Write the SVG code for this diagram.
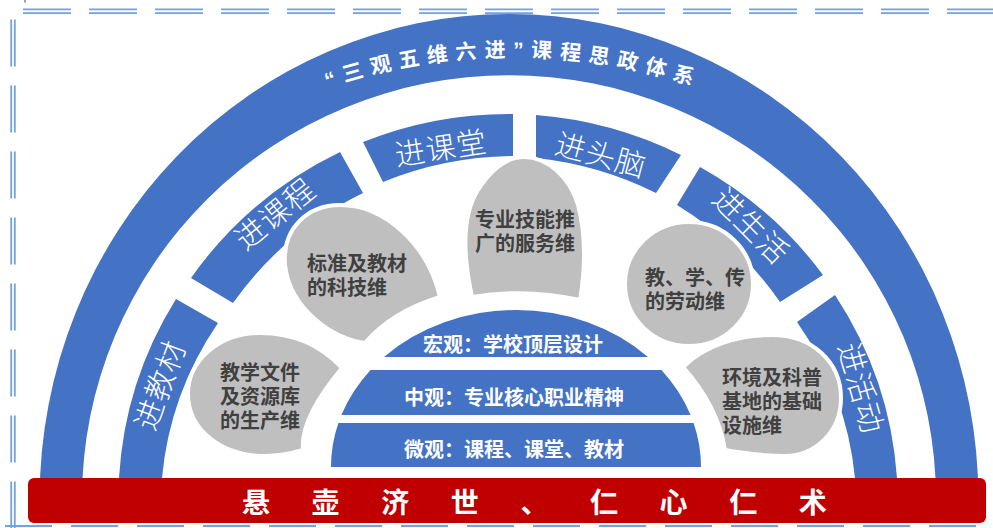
<svg xmlns="http://www.w3.org/2000/svg" xmlns:xlink="http://www.w3.org/1999/xlink" width="993" height="528" viewBox="0 0 993 528">
  <defs>
    <style>
      .blue { fill: #4472C4; }
      .blob { fill: #BFBFBF; stroke: #FFFFFF; stroke-width: 4; }
      .dash { stroke: #73A1E2; stroke-width: 1.8; fill: none; }
      .seg-label { font-family: "Noto Sans CJK SC", "Noto Sans", sans-serif; font-size: 30px; font-weight: 300; fill: #FFFFFF; text-anchor: middle; letter-spacing: 1px; }
      .blob-text { font-family: "Noto Sans CJK SC", "Noto Sans", sans-serif; font-size: 20px; font-weight: 700; fill: #404040; }
      .dome-text { font-family: "Noto Sans CJK SC", "Noto Sans", sans-serif; font-size: 20px; font-weight: 700; fill: #FFFFFF; text-anchor: middle; }
      .title { font-family: "Liberation Sans", "Noto Sans CJK SC", sans-serif; font-size: 21px; font-weight: 700; fill: #FFFFFF; letter-spacing: 7.5px; }
      .bar-text { font-family: "Noto Sans CJK SC", "Noto Sans", sans-serif; font-size: 28px; font-weight: 700; fill: #FFFFFF; letter-spacing: 41.6px; }
    </style>
    <path id="titlePath" d="M -7,530 A 520 473 0 0 1 1033,530" fill="none"/>
  </defs>

  <rect x="0" y="0" width="993" height="528" fill="#FFFFFF"/>

  <!-- dashed frame -->
  <g id="frame">
    <line x1="25" y1="0" x2="25" y2="2.5" stroke="#808080" stroke-width="1.5"/>
    <line class="dash" x1="23" y1="9.3" x2="993" y2="9.3" stroke-dasharray="48 18"/>
    <line class="dash" x1="23" y1="13.2" x2="993" y2="13.2" stroke-dasharray="48 18"/>
    <line class="dash" x1="11.2" y1="19.5" x2="11.2" y2="528" stroke-dasharray="47 19"/>
    <line class="dash" x1="14.8" y1="19.5" x2="14.8" y2="528" stroke-dasharray="47 19"/>
    <line class="dash" x1="5" y1="526" x2="993" y2="526" stroke-dasharray="47 19"/>
    <line class="dash" x1="5" y1="529.6" x2="993" y2="529.6" stroke-dasharray="47 19"/>
  </g>

  <!-- outer arch with title -->
  <g id="arch">
    <path class="blue" d="M 39.6,499 A 469.4 485 0 0 1 978.4,499 L 936,499 A 427 424 0 0 0 82,499 Z"/>
    <text class="title"><textPath xlink:href="#titlePath" href="#titlePath" startOffset="50%" text-anchor="middle">“三观五维六进”课程思政体系</textPath></text>
  </g>

  <!-- six segments -->
  <g id="seg-jiaocai">
    <path class="blue" d="M 118.5,490 L 119,478 A 390 384 0 0 1 176,299 L 218,323 A 347 335 0 0 0 162,478 L 162,490 Z"/>
    <text class="seg-label" transform="translate(160,385) rotate(-70)" y="11">进教材</text>
  </g>
  <g id="seg-kecheng">
    <path class="blue" d="M 191,278 A 390 384 0 0 1 340,152 L 363,193 A 347 335 0 0 0 233,303 Z"/>
    <text class="seg-label" transform="translate(275,214) rotate(-39)" y="11">进课程</text>
  </g>
  <g id="seg-ketang">
    <path class="blue" d="M 363,142 A 390 384 0 0 1 513,114 L 513,156 A 347 340 0 0 0 383,182 Z"/>
    <text class="seg-label" transform="translate(441,148) rotate(-9)" y="11">进课堂</text>
  </g>
  <g id="seg-tounao">
    <path class="blue" d="M 536,115 A 390 384 0 0 1 681,155 L 656,193 A 347 340 0 0 0 536,158 Z"/>
    <text class="seg-label" transform="translate(601,155) rotate(15)" y="11">进头脑</text>
  </g>
  <g id="seg-shenghuo">
    <path class="blue" d="M 700,167 A 390 384 0 0 1 823,275 L 780,302 A 347 335 0 0 0 677,205 Z"/>
    <text class="seg-label" transform="translate(751,226) rotate(45)" y="11">进生活</text>
  </g>
  <g id="seg-huodong">
    <path class="blue" d="M 835,295 A 390 384 0 0 1 897,478 L 897.5,490 L 855,490 L 855,478 A 347 335 0 0 0 797,322 Z"/>
    <text class="seg-label" transform="translate(861,388) rotate(74)" y="11">进活动</text>
  </g>

  <!-- gray dimension blobs -->
  <g id="blob-shengchan">
    <path class="blob" d="M 342,368 C 318,342 290,333 260,333 C 220,333 188,360 188,394 C 188,430 222,456 265,456 C 280,456 293,453 303,450 Q 300,418 342,368 Z"/>
    <text class="blob-text" x="220" y="380"><tspan x="220" y="380">教学文件</tspan><tspan x="220" y="404">及资源库</tspan><tspan x="220" y="428">的生产维</tspan></text>
  </g>
  <g id="blob-keji">
    <path class="blob" d="M 440,297 Q 391.5,312 365,343 C 335,340 290,310 285,265 C 282,228 308,205 340,205 C 385,205 428,245 440,297 Z"/>
    <text class="blob-text" x="307" y="271"><tspan x="307" y="271">标准及教材</tspan><tspan x="307" y="295">的科技维</tspan></text>
  </g>
  <g id="blob-fuwu">
    <path class="blob" d="M 472,297 C 463,255 462,215 478,190 C 492,168 508,157 524,157 C 548,157 570,178 578,205 C 586,235 585,270 580,300 Q 526,288 472,297 Z"/>
    <text class="blob-text" x="475" y="227"><tspan x="475" y="227">专业技能推</tspan><tspan x="475" y="251">广的服务维</tspan></text>
  </g>
  <g id="blob-laodong">
    <ellipse class="blob" cx="689" cy="284" rx="64" ry="62"/>
    <text class="blob-text" x="645" y="285"><tspan x="645" y="285">教、学、传</tspan><tspan x="645" y="309">的劳动维</tspan></text>
  </g>
  <g id="blob-sheshi">
    <path class="blob" d="M 683,367 C 705,345 738,335 772,335 C 812,335 841,362 841,398 C 841,432 815,456 785,456 C 762,456 742,453 725,450 Q 718,406 683,367 Z"/>
    <text class="blob-text" x="722" y="385"><tspan x="722" y="385">环境及科普</tspan><tspan x="722" y="409">基地的基础</tspan><tspan x="722" y="433">设施维</tspan></text>
  </g>

  <!-- central dome -->
  <g id="dome-macro">
    <path class="blue" d="M 384,357 A 185 157 0 0 1 648,357 Z"/>
    <text class="dome-text" x="513" y="351.5">宏观：学校顶层设计</text>
  </g>
  <g id="dome-meso">
    <path class="blue" d="M 341.4,415 A 185 157 0 0 1 370.6,370 L 661.4,370 A 185 157 0 0 1 690.6,415 Z"/>
    <text class="dome-text" x="514" y="405">中观：专业核心职业精神</text>
  </g>
  <g id="dome-micro">
    <path class="blue" d="M 331,467 A 185 157 0 0 1 338.4,423 L 693.6,423 A 185 157 0 0 1 701,467 Z"/>
    <text class="dome-text" x="514" y="456.5">微观：课程、课堂、教材</text>
  </g>

  <!-- base bar -->
  <g id="base-bar">
    <rect x="28" y="478" width="958" height="45" rx="6" ry="6" fill="#C00000"/>
    <text class="bar-text" x="242" y="513">悬壶济世、仁心仁术</text>
  </g>

  <g id="connectors"/>
</svg>
